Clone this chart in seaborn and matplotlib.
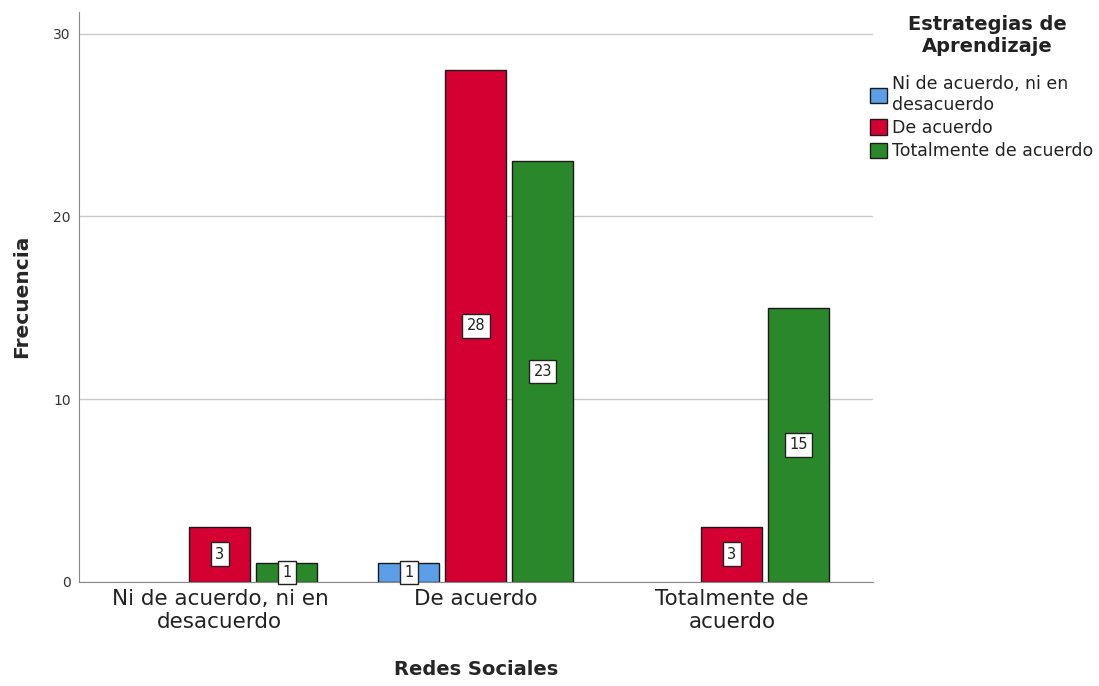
import matplotlib
matplotlib.use("Agg")
import matplotlib.pyplot as plt
import pandas as pd
import seaborn as sns

# Data
redes = ["Ni de acuerdo, ni en\ndesacuerdo", "De acuerdo", "Totalmente de\nacuerdo"]
estrategias = ["Ni de acuerdo, ni en\ndesacuerdo", "De acuerdo", "Totalmente de acuerdo"]
grupo = [redes[0], redes[0], redes[1], redes[1], redes[1], redes[2], redes[2]]
nivel = [estrategias[1], estrategias[2], estrategias[0], estrategias[1], estrategias[2],
         estrategias[1], estrategias[2]]
frecuencia = [3, 1, 1, 28, 23, 3, 15]
colores = ["#5C9EE8", "#D50032", "#2A882A"]

df = pd.DataFrame({"Redes Sociales": grupo, "Estrategias": nivel, "Frecuencia": frecuencia})

sns.set_style("white")
plt.rcParams["font.family"] = ["DejaVu Sans"]

fig = plt.figure(figsize=(10.99, 6.86), dpi=100)
ax = fig.add_axes([0.072, 0.152, 0.722, 0.831])

sns.barplot(data=df, x="Redes Sociales", y="Frecuencia", hue="Estrategias",
            order=redes, hue_order=estrategias, palette=colores,
            width=0.785, gap=0.09, edgecolor="#1a1a1a", linewidth=1,
            saturation=1, errorbar=None, ax=ax)

# value labels in white boxes at mid-height
for cont in ax.containers:
    for bar in cont:
        h = bar.get_height()
        if pd.isna(h) or h == 0:
            continue
        ax.text(bar.get_x() + bar.get_width() / 2, h / 2, f"{int(h)}",
                ha="center", va="center", fontsize=10.5, color="#222222",
                bbox=dict(boxstyle="square,pad=0.3", fc="white", ec="#222222", lw=1))

ax.set_xlim(-0.55, 2.55)
ax.set_ylim(0, 31.2)
ax.set_yticks([0, 10, 20, 30])
ax.yaxis.grid(True, color="#c8c8c8", linewidth=1)
ax.set_axisbelow(True)
for s in ["top", "right"]:
    ax.spines[s].set_visible(False)
for s in ["left", "bottom"]:
    ax.spines[s].set_color("#888888")
ax.tick_params(axis="y", labelsize=10, labelcolor="#333333", length=0, pad=6)
ax.tick_params(axis="x", labelsize=15.5, labelcolor="#222222", length=0, pad=5)

ax.set_xlabel("Redes Sociales", fontsize=14, fontweight="bold", labelpad=20)
ax.set_ylabel("Frecuencia", fontsize=14.5, fontweight="bold", labelpad=16)

# legend title drawn separately so the gap to the entries matches
fig.text(987 / 1099, 1 - 36 / 686, "Estrategias de\nAprendizaje", ha="center", va="center",
         fontsize=14, fontweight="bold", color="#222222", linespacing=1.2)

handles, labels = ax.get_legend_handles_labels()
ax.legend_.remove()
leg = fig.legend(handles, labels, loc="upper left", bbox_to_anchor=(870 / 1099, 1 - 75 / 686),
                 frameon=False, fontsize=12.5, labelcolor="#222222",
                 handlelength=1.0, handleheight=1.0, handletextpad=0.25,
                 labelspacing=0.3, borderaxespad=0, borderpad=0)

fig.savefig("out.png", dpi=100)
